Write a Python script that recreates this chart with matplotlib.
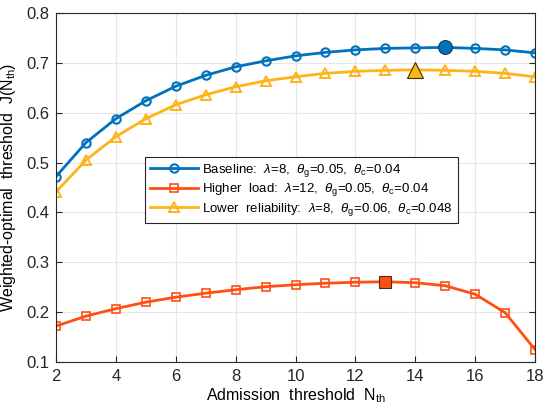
import matplotlib
matplotlib.use('Agg')
import matplotlib.pyplot as plt

plt.rcParams['font.family'] = ['Liberation Sans', 'DejaVu Sans']
plt.rcParams['mathtext.fontset'] = 'custom'
plt.rcParams['mathtext.rm'] = 'Liberation Sans'
plt.rcParams['mathtext.it'] = 'Liberation Sans:italic'

# Data
n_th = [2, 3, 4, 5, 6, 7, 8, 9, 10, 11, 12, 13, 14, 15, 16, 17, 18]
baseline = [0.472, 0.540, 0.588, 0.624, 0.653, 0.675, 0.692, 0.704, 0.714,
            0.721, 0.726, 0.729, 0.730, 0.731, 0.729, 0.726, 0.720]
higher_load = [0.172, 0.192, 0.207, 0.220, 0.230, 0.238, 0.245, 0.251, 0.255,
               0.258, 0.260, 0.261, 0.259, 0.253, 0.236, 0.199, 0.125]
lower_rel = [0.441, 0.505, 0.552, 0.588, 0.616, 0.636, 0.652, 0.664, 0.672,
             0.679, 0.683, 0.685, 0.686, 0.685, 0.683, 0.679, 0.672]

# index of the optimum for each curve
best_base = 13
best_load = 11
best_rel = 12

c_base = '#0072BD'
c_load = '#FF4F14'
c_rel = '#FFB31A'

fig = plt.figure(figsize=(5.5, 4.13), dpi=100)
ax = fig.add_axes([56 / 550, 1 - 362 / 413, (535 - 56) / 550, (362 - 13) / 413])

ax.plot(n_th, baseline, '-o', color=c_base, lw=2, ms=6, mfc='none', mew=1.5,
        label=r'Baseline:  $\lambda$=8,  $\theta_\mathrm{g}$=0.05,  $\theta_\mathrm{c}$=0.04')
ax.plot(n_th, higher_load, '-s', color=c_load, lw=2, ms=5.5, mfc='none', mew=1.2,
        label=r'Higher  load:  $\lambda$=12,  $\theta_\mathrm{g}$=0.05,  $\theta_\mathrm{c}$=0.04')
ax.plot(n_th, lower_rel, '-^', color=c_rel, lw=2, ms=7, mfc='none', mew=1.4,
        label=r'Lower  reliability:  $\lambda$=8,  $\theta_\mathrm{g}$=0.06,  $\theta_\mathrm{c}$=0.048')

ax.plot(n_th[best_base], baseline[best_base], 'o', color=c_base, ms=10, mec='#1a3a5a', mew=0.8)
ax.plot(n_th[best_load], higher_load[best_load], 's', color=c_load, ms=8, mec='#5a2a10', mew=0.8)
ax.plot(n_th[best_rel], lower_rel[best_rel], '^', color=c_rel, ms=12, mec='#3a3000', mew=0.8)

ax.set_xlim(2, 18)
ax.set_ylim(0.1, 0.8)
ax.set_xticks(range(2, 19, 2))
ax.set_yticks([0.1, 0.2, 0.3, 0.4, 0.5, 0.6, 0.7, 0.8])
ax.grid(True, color='#e6e6e6', lw=0.8)
ax.set_axisbelow(True)
for s in ax.spines.values():
    s.set_color('#262626')
    s.set_linewidth(0.8)
ax.tick_params(direction='in', length=4, labelsize=12, colors='#262626', pad=5,
               top=False, right=True)

ax.set_xlabel(r'Admission  threshold  N$_\mathrm{th}$', fontsize=11.5, labelpad=2)
ax.set_ylabel(r'Weighted-optimal  threshold  J(N$_\mathrm{th}$)', fontsize=11.5, labelpad=6)

leg = ax.legend(loc='upper left', bbox_to_anchor=((145 - 56) / 479, (362 - 157) / 349),
                fontsize=9.5, handlelength=3.7, borderpad=0.35, labelspacing=0.2,
                handletextpad=0.3, borderaxespad=0, fancybox=False, framealpha=1)
leg.get_frame().set_edgecolor('#262626')
leg.get_frame().set_linewidth(0.8)

fig.savefig('out.png', dpi=100)
